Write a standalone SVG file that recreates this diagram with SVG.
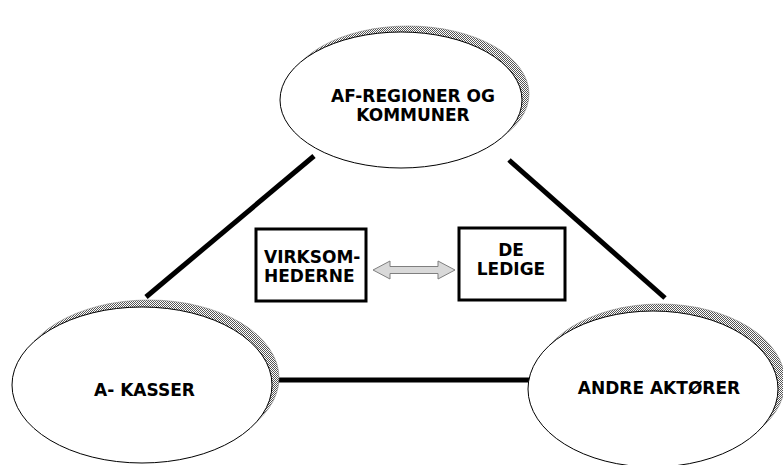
<svg xmlns="http://www.w3.org/2000/svg" width="783" height="465" viewBox="0 0 783 465">
<defs>
<pattern id="dots" width="2" height="2" patternUnits="userSpaceOnUse">
<rect width="2" height="2" fill="#ffffff"/>
<rect width="1" height="1" fill="#555555"/>
<rect x="1" y="1" width="1" height="1" fill="#555555"/>
</pattern>
</defs>
<style>
.shadow{fill:url(#dots);stroke:#777;stroke-width:0.5}
.ell{fill:#ffffff;stroke:#000;stroke-width:1}
.box{fill:#ffffff;stroke:#000;stroke-width:3}
.conn{stroke:#000;stroke-width:5;fill:none}
.t{font-family:"DejaVu Sans",Verdana,sans-serif;font-weight:bold;font-size:17px;fill:#000}
.mid{text-anchor:middle}
</style>
<rect width="783" height="465" fill="#ffffff"/>
<g id="connectors">
<line class="conn" x1="146" y1="297" x2="314" y2="156"/>
<line class="conn" x1="509" y1="160" x2="665" y2="298"/>
<line class="conn" x1="278" y1="380" x2="531" y2="380"/>
</g>
<g id="af-regioner">
<ellipse class="shadow" cx="408" cy="94" rx="121" ry="68"/>
<ellipse class="ell" cx="401" cy="100" rx="121" ry="68"/>
<text class="t mid" x="413" y="102">AF-REGIONER OG</text>
<text class="t mid" x="413" y="121">KOMMUNER</text>
</g>
<g id="a-kasser">
<ellipse class="shadow" cx="149" cy="378" rx="130" ry="78"/>
<ellipse class="ell" cx="142" cy="385" rx="130" ry="78"/>
<text class="t mid" x="144.5" y="396">A- KASSER</text>
</g>
<g id="andre-aktorer">
<ellipse class="shadow" cx="660" cy="382" rx="125" ry="78"/>
<ellipse class="ell" cx="653" cy="389" rx="125" ry="78"/>
<text class="t mid" x="659" y="394">ANDRE AKTØRER</text>
</g>
<g id="virksomhederne">
<rect class="box" x="256" y="229" width="110" height="72"/>
<text class="t" x="264" y="263">VIRKSOM-</text>
<text class="t" x="264" y="282">HEDERNE</text>
</g>
<g id="de-ledige">
<rect class="box" x="459" y="228" width="106" height="72"/>
<text class="t mid" x="511" y="256">DE</text>
<text class="t mid" x="511" y="275">LEDIGE</text>
</g>
<g id="double-arrow">
<polygon points="373,270 390,261 390,266.5 438,266.5 438,261 455,270 438,279 438,273.5 390,273.5 390,279" fill="#d9d9d9" stroke="#7f7f7f" stroke-width="1"/>
</g>
</svg>
